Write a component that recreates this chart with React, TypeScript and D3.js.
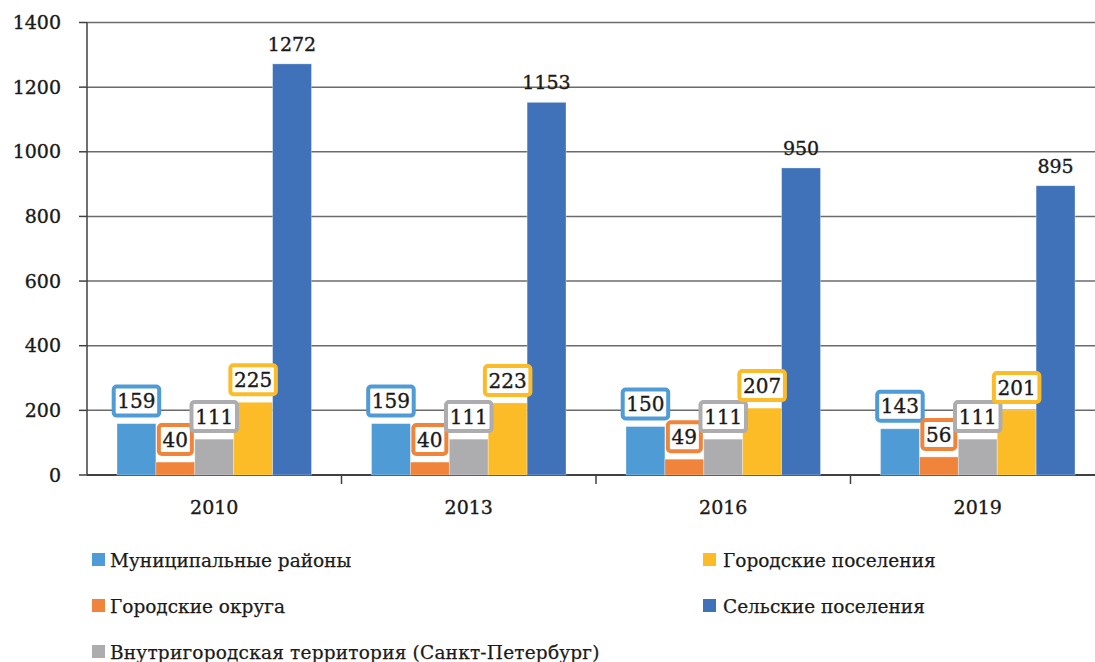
import React from "react";
import * as d3 from "d3";

const years = ["2010", "2013", "2016", "2019"];
const seriesNames = [
  "Муниципальные районы",
  "Городские округа",
  "Внутригородская территория (Санкт-Петербург)",
  "Городские поселения",
  "Сельские поселения",
];
const municipalDistricts = [159, 159, 150, 143];
const urbanOkrugs = [40, 40, 49, 56];
const intraCity = [111, 111, 111, 111];
const urbanSettlements = [225, 223, 207, 201];
const ruralSettlements = [1272, 1153, 950, 895];
const yTicks = [0, 200, 400, 600, 800, 1000, 1200, 1400];
const colors = ["#4f9bd5", "#f0843a", "#adadb0", "#fbbc28", "#3f72b9"];

const seriesValues = [municipalDistricts, urbanOkrugs, intraCity, urbanSettlements, ruralSettlements];

const W = 1095;
const H = 662;
const FONT = "'DejaVu Serif', serif";
const TXT = { fill: "#1a1a1a", stroke: "#1a1a1a", strokeWidth: 0.35 };

export default function App() {
  const y = d3.scaleLinear().domain([0, 1400]).range([475, 22.5]);
  const x0 = d3.scaleBand().domain(years).range([87, 1105]).paddingInner(0).paddingOuter(0);
  const x1 = d3
    .scaleBand()
    .domain(seriesNames)
    .range([30, x0.bandwidth() - 30])
    .padding(0);
  const bw = x1.bandwidth();

  const legendPos = [
    { x: 92, y: 553 },
    { x: 92, y: 599 },
    { x: 92, y: 645 },
    { x: 703, y: 553 },
    { x: 703, y: 599 },
  ];

  return (
    <svg width={W} height={H} style={{ position: "absolute", left: 0, top: 0, background: "#fff" }} fontFamily={FONT}>
      {yTicks.map((t) => (
        <g key={t}>
          <line x1={87} x2={W} y1={y(t)} y2={y(t)} stroke={t === 0 ? "#404040" : "#6b6b6b"} strokeWidth={t === 0 ? 2 : 1.5} />
          <line x1={79} x2={87} y1={y(t)} y2={y(t)} stroke="#404040" strokeWidth={1.5} />
          <text x={61} y={y(t)} dy="0.35em" textAnchor="end" fontSize={19} {...TXT}>
            {t}
          </text>
        </g>
      ))}
      <line x1={87} x2={87} y1={y(1400)} y2={y(0)} stroke="#404040" strokeWidth={1.5} />
      {years.map((yr, i) => (
        <g key={yr}>
          {i > 0 && <line x1={x0(yr)!} x2={x0(yr)!} y1={475} y2={484} stroke="#404040" strokeWidth={1.5} />}
          <text x={x0(yr)! + x0.bandwidth() / 2} y={514} textAnchor="middle" fontSize={19} {...TXT}>
            {yr}
          </text>
        </g>
      ))}
      {years.map((yr, gi) => (
        <g key={yr} transform={`translate(${x0(yr)},0)`}>
          {seriesNames.map((s, si) => {
            const v = seriesValues[si][gi];
            const bx = x1(s)!;
            return (
              <rect
                key={s}
                x={bx}
                y={y(v)}
                width={bw}
                height={y(0) - y(v)}
                fill={colors[si]}
                stroke="#ffffff"
                strokeOpacity={0.4}
                strokeWidth={0.8}
              />
            );
          })}
          {seriesNames.map((s, si) => {
            const v = seriesValues[si][gi];
            const cx = x1(s)! + bw / 2;
            const label = String(v);
            if (si === 4) {
              return (
                <text key={s} x={cx} y={y(v) - 13} textAnchor="middle" fontSize={19} {...TXT}>
                  {label}
                </text>
              );
            }
            const tw = label.length * 12.5;
            const rw = tw + 8;
            const rh = 29;
            const bottom = y(v) - 8;
            return (
              <g key={s}>
                <rect x={cx - rw / 2} y={bottom - rh} width={rw} height={rh} rx={3} fill="#fff" stroke={colors[si]} strokeWidth={4} />
                <text x={cx} y={bottom - rh / 2} dy="0.36em" textAnchor="middle" fontSize={20} {...TXT}>
                  {label}
                </text>
              </g>
            );
          })}
        </g>
      ))}
      {seriesNames.map((s, i) => (
        <g key={s} transform={`translate(${legendPos[i].x},${legendPos[i].y})`}>
          <rect x={0} y={0} width={13} height={13} fill={colors[i]} />
          <text x={i < 3 ? 18 : 20} y={7} dy="0.36em" fontSize={18.5} {...TXT} strokeWidth={0.25} letterSpacing={i === 2 ? 0.2 : 0}>
            {s}
          </text>
        </g>
      ))}
    </svg>
  );
}
